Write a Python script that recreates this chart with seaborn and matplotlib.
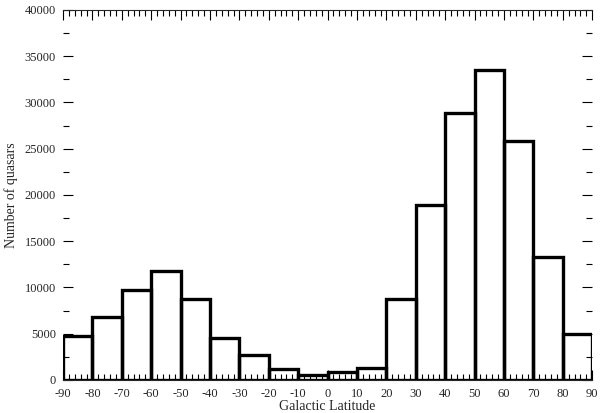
import numpy as np
import seaborn as sns
import matplotlib.pyplot as plt
from matplotlib.ticker import MultipleLocator

# galactic latitude bins (deg) and counts
bin_edges = [-90, -80, -70, -60, -50, -40, -30, -20, -10, 0,
             10, 20, 30, 40, 50, 60, 70, 80, 90]
counts = [4800, 6800, 9750, 11800, 8750, 4550, 2700, 1200, 550, 850,
          1300, 8800, 18900, 28850, 33550, 25850, 13300, 4950]
x_ticks = list(range(-90, 91, 10))
y_ticks = list(range(0, 40001, 5000))

centers = [(a + b) / 2 for a, b in zip(bin_edges[:-1], bin_edges[1:])]

sns.set_style("ticks")
plt.rcParams['font.family'] = ['Liberation Serif', 'DejaVu Serif']
plt.rcParams['axes.unicode_minus'] = False

fig = plt.figure(figsize=(6, 4.13), dpi=100)
ax = fig.add_axes([0.105, 0.08, 0.882, 0.896])

sns.histplot(x=centers, weights=counts, bins=bin_edges, element="bars",
             fill=False, color="black", linewidth=2.4, ax=ax)

ax.set_xlim(-90, 90)
ax.set_ylim(0, 40000)
ax.set_xticks(x_ticks)
ax.set_yticks(y_ticks)
ax.xaxis.set_minor_locator(MultipleLocator(2))
ax.yaxis.set_minor_locator(MultipleLocator(2500))
ax.tick_params(which="both", direction="in", top=True, right=True,
               labelsize=9, width=0.8, color="black")
ax.tick_params(which="major", length=7)
ax.tick_params(which="minor", length=4)
ax.tick_params(axis="x", pad=6)
ax.tick_params(axis="y", pad=5)

for side in ["left", "right"]:
    ax.spines[side].set_visible(False)
for side in ["top", "bottom"]:
    ax.spines[side].set_linewidth(0.8)

ax.set_xlabel("Galactic Latitude", fontsize=10, labelpad=0)
ax.set_ylabel("Number of quasars", fontsize=10, labelpad=5)

fig.savefig("out.png", dpi=100)
